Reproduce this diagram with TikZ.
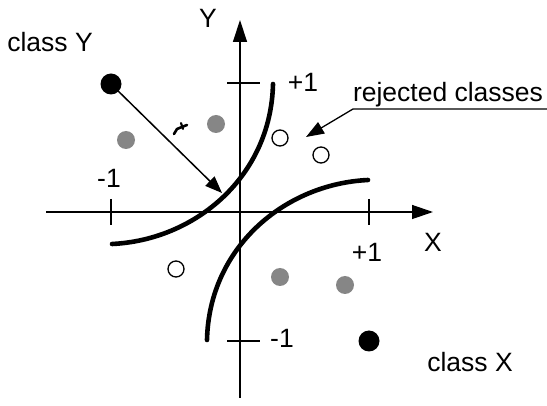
\documentclass[tikz,border=0pt]{standalone}
\usepackage{fontspec}
\setmainfont{Liberation Sans}
\usetikzlibrary{arrows.meta}
\begin{document}
\begin{tikzpicture}[x=1pt,y=-1pt,
  lbl/.style={inner sep=0pt,anchor=base,font=\fontsize{26.5}{31}\selectfont},
  axisline/.style={line width=1.3pt},
  boundary/.style={line width=4.6pt,line cap=round},
  blackdot/.style={circle,fill=black,minimum size=21pt,inner sep=0pt},
  graydot/.style={circle,fill=gray!95,minimum size=18pt,inner sep=0pt},
  opendot/.style={circle,draw=black,line width=1.3pt,fill=white,minimum size=16pt,inner sep=0pt}]
\useasboundingbox (0,0) rectangle (547,406);
% axes
\coordinate (xs) at (46,212);
\coordinate (xe) at (433,212);
\coordinate (ys) at (240,398);
\coordinate (ye) at (240,20);
\draw[axisline,-{Triangle[length=21pt,width=14pt]}] (xs) -- (xe);
\draw[axisline,-{Triangle[length=22pt,width=14pt]}] (ys) -- (ye);
% ticks
\draw[axisline] (227,83) -- (260,83);
\draw[axisline] (227,341) -- (260,341);
\draw[axisline] (111,199) -- (111,225);
\draw[axisline] (369,199) -- (369,225);
% boundaries
\draw[boundary] (273,84) .. controls (271,176) and (196,240) .. (112,244);
\draw[boundary] (207,340) .. controls (209,248) and (284,184) .. (368,180);
% points
\node[blackdot] (cy) at (111,84) {};
\node[blackdot] (cx) at (369,341) {};
\node[graydot] (g1) at (126,140) {};
\node[graydot] (g2) at (216,124) {};
\node[graydot] (g3) at (280,277) {};
\node[graydot] (g4) at (345,285) {};
\node[opendot] (o1) at (280,138) {};
\node[opendot] (o2) at (321,155) {};
\node[opendot] (o3) at (176,269) {};
% arrow from class Y
\coordinate (tip) at (222,193);
\draw[line width=1.5pt,-{Triangle[length=17pt,width=13pt]}] (cy.center) -- (tip);
% small mark
\draw[line width=2.6pt,line cap=round,line join=round] (174,134) -- (177,129) -- (187,125);
\draw[line width=2.2pt,line cap=round] (181,123) -- (183,129);
% rejected classes leader
\coordinate (rl) at (547,109);
\coordinate (rk) at (353,109);
\coordinate (rt) at (306,137);
\draw[line width=1.3pt,-{Triangle[length=18pt,width=13pt]}] (rl) -- (rk) -- (rt);
% labels
\node[lbl] (ly) at (208,28) {Y};
\node[lbl] (lcy) at (50,52) {class Y};
\node[lbl] (lp1) at (303,92) {+1};
\node[lbl] (lm1) at (109,188) {-1};
\node[lbl] (lp1x) at (367,262) {+1};
\node[lbl] (lx) at (433,252) {X};
\node[lbl] (lm1y) at (282,348) {-1};
\node[lbl] (lcx) at (470,372) {class X};
\node[lbl] (lrej) at (448,102) {rejected classes};
\end{tikzpicture}
\end{document}
